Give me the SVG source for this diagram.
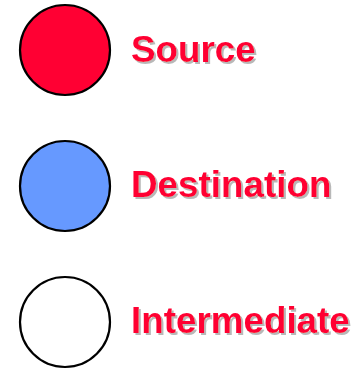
<svg xmlns="http://www.w3.org/2000/svg" width="356" height="369" viewBox="0 0 356 369">
  <defs>
    <!-- soft grey drop shadow behind the labels -->
    <filter id="label-shadow" x="-5%" y="-20%" width="115%" height="150%">
      <feOffset in="SourceAlpha" dx="2" dy="2" result="off"/>
      <feFlood flood-color="#b8b8b8"/>
      <feComposite in2="off" operator="in" result="shadow"/>
      <feMerge>
        <feMergeNode in="shadow"/>
        <feMergeNode in="SourceGraphic"/>
      </feMerge>
    </filter>
  </defs>
  <style>
    .node circle { stroke: #000; stroke-width: 2.2; }
    .label { font-family: "Liberation Sans", Arial, sans-serif; font-weight: bold; font-size: 36.8px; fill: #ff0033; filter: url(#label-shadow); }
  </style>
  <rect width="356" height="369" fill="#fff"/>
  <g id="source" class="node">
    <circle cx="65" cy="50" r="45" fill="#ff0033"/>
    <text class="label" x="131" y="62">Source</text>
  </g>
  <g id="destination" class="node">
    <circle cx="65" cy="186" r="45" fill="#6699ff"/>
    <text class="label" x="131" y="197">Destination</text>
  </g>
  <g id="intermediate" class="node">
    <circle cx="65" cy="322" r="45" fill="#fff"/>
    <text class="label" x="131" y="333">Intermediate</text>
  </g>
  <g id="connectors"/>
</svg>
